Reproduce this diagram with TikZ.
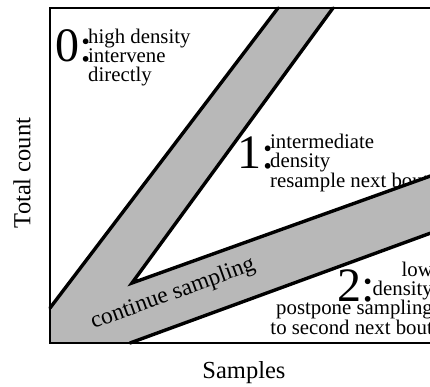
\documentclass[tikz,border=0pt]{standalone}
\usepackage{fontspec}
\setmainfont{Liberation Serif}
\usepackage{tikz}
\usetikzlibrary{positioning,calc}

\begin{document}
\begin{tikzpicture}[x=1pt,y=-1pt,
  band/.style={line width=3.4pt,line cap=round,line join=miter},
  digit/.style={font=\fontsize{48}{48}\selectfont,inner sep=0pt,anchor=base west},
  note/.style={font=\fontsize{20.8}{19.2}\selectfont,inner sep=0pt},
  axislabel/.style={font=\fontsize{24.5}{26}\selectfont,inner sep=0pt}]
  \clip (0,0) rectangle (430,387); % 画像の範囲（右端は切れている）
  \node[note,anchor=base west,align=left] (t1) at (270,187) {intermediate\\density\\resample next bout}; % 領域1の説明
  \fill[black!28] (50,343) -- (50,308) -- (278,8) -- (333,8) -- (132,283) -- (450,169) -- (450,226) -- (130,343) -- cycle; % 灰色の帯
  \draw[line width=1.2pt] (450,8) -- (50,8) -- (50,343) -- (450,343); % 枠（上・左・下）
  \draw[band] (50,308) -- (278,8); % 帯の左上の境界
  \draw[band] (333,8) -- (132,283) -- (450,169); % 帯の内側の境界
  \draw[band] (130,343) -- (450,226); % 帯の右下の境界
  \node[digit] (d0) at (55,62) {0:}; % 領域0
  \node[note,anchor=base west,align=left] (t0) at (88,82) {high density\\intervene\\directly};
  \node[digit] (d1) at (237,168) {1:}; % 領域1
  \node[digit] (d2) at (337,301) {2:}; % 領域2
  \node[note,anchor=base east,align=right] (t2) at (433,334) {low\\density\\postpone sampling\\to second next bout};
  \node[note,rotate=20,font=\fontsize{23.5}{24}\selectfont] (cs) at (173,294) {continue sampling}; % 帯の中の文字
  \node[axislabel,rotate=90] (ylab) at (22,173) {Total count}; % 縦軸
  \node[axislabel,anchor=base] (xlab) at (244,378) {Samples}; % 横軸
\end{tikzpicture}
\end{document}
